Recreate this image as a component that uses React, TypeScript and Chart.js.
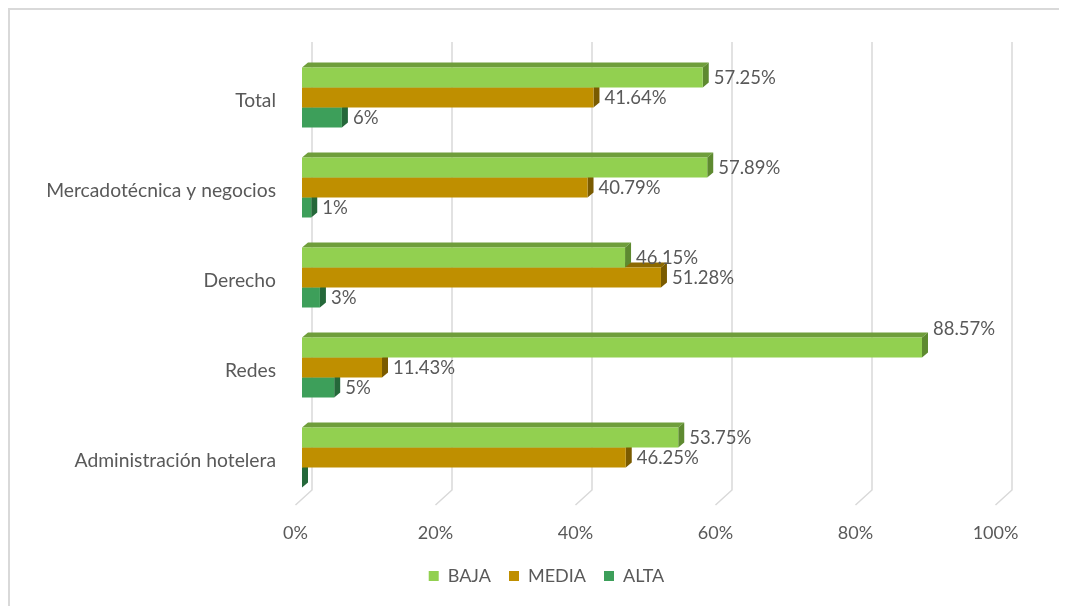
import { useEffect, useRef } from 'react';
import { Chart, registerables } from 'chart.js';
Chart.register(...registerables);

const CATEGORIES = ['Total', 'Mercadotécnica y negocios', 'Derecho', 'Redes', 'Administración hotelera'];
const SERIES_NAMES = ['BAJA', 'MEDIA', 'ALTA'];
const BAJA = [57.25, 57.89, 46.15, 88.57, 53.75];
const MEDIA = [41.64, 40.79, 51.28, 11.43, 46.25];
const ALTA = [5.7, 1.32, 2.56, 4.6, 0];
const LABEL_DECIMALS = [2, 2, 0];
const X_TICKS = [0, 20, 40, 60, 80, 100];

const FRONT = ['#92D050', '#BF8F00', '#3D9F5A'];
const TOP = ['#6F9E3B', '#8C6900', '#2D7A45'];
const SIDE = ['#5E8A30', '#7A5B00', '#25683A'];
const TEXT = '#595959';
const GRID = '#d9d9d9';
const FONT = 'Lato, "Noto Sans", sans-serif';
const DX = 6;
const DY = -5;

const bars3d = {
  id: 'bars3d',
  beforeDatasetsDraw(chart: any) {
    const ctx = chart.ctx;
    const ca = chart.chartArea;
    const x = chart.scales.x;
    ctx.save();
    ctx.strokeStyle = GRID;
    ctx.lineWidth = 1.5;
    for (const t of x.ticks) {
      const px = x.getPixelForValue(t.value);
      ctx.beginPath();
      ctx.moveTo(px + 10, ca.top - 10.5);
      ctx.lineTo(px + 10, ca.bottom - 12.5);
      ctx.lineTo(px - 6.5, ca.bottom + 2.5);
      ctx.stroke();
    }
    const n = chart.data.labels.length;
    const nd = chart.data.datasets.length;
    for (let i = 0; i < n; i++) {
      for (let d = nd - 1; d >= 0; d--) {
        const el = chart.getDatasetMeta(d).data[i];
        const p = el.getProps(['x', 'y', 'base', 'height'], true);
        const top = p.y - p.height / 2;
        const bottom = p.y + p.height / 2;
        const b = p.base;
        const e = p.x;
        ctx.fillStyle = TOP[d];
        ctx.beginPath();
        ctx.moveTo(b, top);
        ctx.lineTo(b + DX, top + DY);
        ctx.lineTo(e + DX, top + DY);
        ctx.lineTo(e, top);
        ctx.closePath();
        ctx.fill();
        ctx.fillStyle = SIDE[d];
        ctx.beginPath();
        ctx.moveTo(e, top);
        ctx.lineTo(e + DX, top + DY);
        ctx.lineTo(e + DX, bottom + DY);
        ctx.lineTo(e, bottom);
        ctx.closePath();
        ctx.fill();
        ctx.fillStyle = FRONT[d];
        ctx.fillRect(b, top, e - b, p.height);
      }
    }
    ctx.restore();
    return false;
  },
  afterDraw(chart: any) {
    const ctx = chart.ctx;
    ctx.save();
    ctx.font = `18.5px ${FONT}`;
    ctx.fillStyle = TEXT;
    ctx.textAlign = 'left';
    ctx.textBaseline = 'middle';
    chart.data.datasets.forEach((ds: any, d: number) => {
      chart.getDatasetMeta(d).data.forEach((el: any, i: number) => {
        const v = ds.data[i];
        if (!v) return;
        const p = el.getProps(['x', 'y'], true);
        const txt = v.toFixed(LABEL_DECIMALS[d]) + '%';
        const lift = v > 80 ? -18 : 1;
        ctx.fillText(txt, p.x + 11, p.y + lift);
      });
    });
    ctx.restore();
  },
};

export default function App() {
  const ref = useRef<HTMLCanvasElement>(null);
  useEffect(() => {
    document.body.style.overflow = 'hidden';
    const series = [BAJA, MEDIA, ALTA];
    const chart = new Chart(ref.current!, {
      type: 'bar',
      data: {
        labels: CATEGORIES,
        datasets: SERIES_NAMES.map((name, d) => ({
          label: name,
          data: series[d],
          backgroundColor: FRONT[d],
          borderWidth: 0,
          categoryPercentage: 2 / 3,
          barPercentage: 1,
        })),
      },
      options: {
        indexAxis: 'y',
        responsive: false,
        animation: false,
        devicePixelRatio: 1,
        layout: { padding: { top: 42.5, left: 16, right: 0, bottom: 11 } },
        plugins: {
          tooltip: { enabled: false },
          legend: {
            position: 'bottom',
            labels: {
              boxWidth: 10,
              boxHeight: 10,
              padding: 18,
              color: TEXT,
              font: { family: FONT, size: 18 },
            },
          },
        },
        scales: {
          x: {
            type: 'linear',
            min: 0,
            max: 100,
            afterBuildTicks: (s: any) => {
              s.ticks = X_TICKS.map((v) => ({ value: v }));
            },
            afterFit: (s: any) => {
              s.height = 46.5;
            },
            grid: { display: false, drawTicks: false },
            border: { display: false },
            ticks: {
              padding: 20,
              labelOffset: -6.5,
              color: TEXT,
              font: { family: FONT, size: 18 },
              callback: (v: any) => v + '%',
            },
          },
          y: {
            type: 'category',
            afterFit: (s: any) => {
              s.width = 276;
            },
            grid: { display: false, drawTicks: false },
            border: { display: false },
            ticks: {
              padding: 26,
              labelOffset: 3,
              color: TEXT,
              font: { family: FONT, size: 19.3 },
            },
          },
          y2: {
            type: 'linear',
            position: 'right',
            afterFit: (s: any) => {
              s.width = 65;
            },
            grid: { display: false, drawTicks: false },
            border: { display: false },
            ticks: { display: false },
          },
        },
      } as any,
      plugins: [bars3d],
    });
    return () => chart.destroy();
  }, []);
  return (
    <div
      style={{
        width: 1059,
        height: 598,
        boxSizing: 'border-box',
        borderLeft: '2px solid #d9d9d9',
        borderTop: '2px solid #d9d9d9',
        background: '#fff',
      }}
    >
      <canvas ref={ref} width={1057} height={596} style={{ display: 'block' }} />
    </div>
  );
}
